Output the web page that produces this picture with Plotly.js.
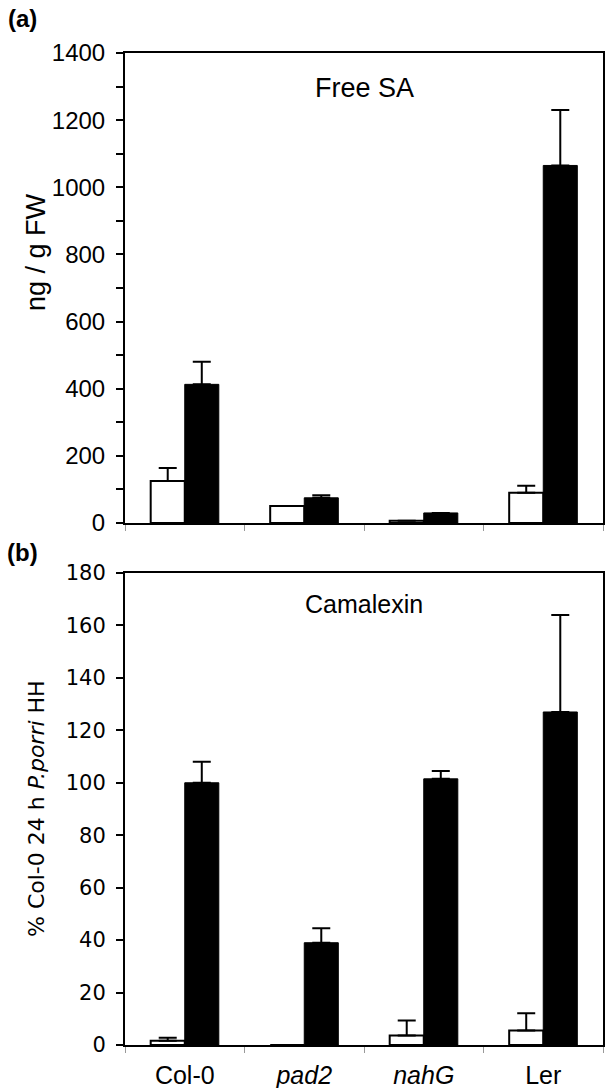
<!DOCTYPE html>
<html>
<head>
<meta charset="utf-8">
<script src="https://cdn.plot.ly/plotly-3.0.1.min.js"></script>
<style>
html,body{margin:0;padding:0;background:#fff;}
#chart{width:605px;height:1088px;}
</style>
</head>
<body>
<div id="chart"></div>
<script>
// Data
const categories = ['Col-0', '<i>pad2</i>', '<i>nahG</i>', 'Ler'];

// (a) Free SA, ng / g FW
const saMock = [125, 51, 7, 90];
const saMockErr = [39, 0, 0, 21];
const saInf = [413, 75, 30, 1065];
const saInfErr = [67, 8, 0, 165];

// (b) Camalexin, % Col-0 24 h P.porri HH
const camMock = [1.6, 0, 3.6, 5.5];
const camMockErr = [1.2, 0, 5.7, 6.6];
const camInf = [100, 39, 101.5, 127];
const camInfErr = [8, 5.5, 3, 37];

const zeros = categories.map(() => 0);

function errUp(arr) {
  return {type: 'data', symmetric: false, array: arr, arrayminus: zeros,
          color: '#000', thickness: 2, width: 9, visible: true};
}
const whiteMarker = {color: '#ffffff', line: {color: '#000', width: 2}};
const blackMarker = {color: '#000000', line: {color: '#000', width: 1}};

const traces = [
  {type: 'bar', x: categories, y: saMock, error_y: errUp(saMockErr), marker: whiteMarker, xaxis: 'x', yaxis: 'y', showlegend: false, hoverinfo: 'none'},
  {type: 'bar', x: categories, y: saInf, error_y: errUp(saInfErr), marker: blackMarker, xaxis: 'x', yaxis: 'y', showlegend: false, hoverinfo: 'none'},
  {type: 'bar', x: categories, y: camMock, error_y: errUp(camMockErr), marker: whiteMarker, xaxis: 'x2', yaxis: 'y2', showlegend: false, hoverinfo: 'none'},
  {type: 'bar', x: categories, y: camInf, error_y: errUp(camInfErr), marker: blackMarker, xaxis: 'x2', yaxis: 'y2', showlegend: false, hoverinfo: 'none'}
];

const W = 605, H = 1088;
const px = v => v / W;
const py = v => 1 - v / H;
const SANS = 'Liberation Sans, Arial, sans-serif';
const VERD = 'DejaVu Sans, Verdana, sans-serif';

const xCommon = {
  type: 'category', showline: true, linecolor: '#000', linewidth: 2, mirror: true,
  ticks: 'outside', tickson: 'boundaries', ticklen: 6, tickwidth: 1, tickcolor: '#999',
  showgrid: false, zeroline: false, fixedrange: true, automargin: false,
  domain: [px(125), px(603)]
};

const layout = {
  width: W, height: H,
  margin: {l: 0, r: 0, t: 0, b: 0},
  paper_bgcolor: '#fff', plot_bgcolor: '#fff',
  barmode: 'group', bargap: 0.43, bargroupgap: 0,
  font: {family: SANS, color: '#000', size: 20},
  xaxis: Object.assign({}, xCommon, {anchor: 'y', showticklabels: false}),
  xaxis2: Object.assign({}, xCommon, {anchor: 'y2', showticklabels: true,
    ticklabelstandoff: 7,
    tickfont: {family: SANS, size: 25, color: '#000'}}),
  yaxis: {
    domain: [py(523), py(53)], range: [0, 1400], anchor: 'x',
    tickmode: 'linear', tick0: 0, dtick: 200,
    ticks: 'outside', ticklen: 7, tickwidth: 2, tickcolor: '#000',
    minor: {dtick: 100, tick0: 0, ticks: 'outside', ticklen: 7, tickwidth: 2, tickcolor: '#000', showgrid: false},
    showline: true, linecolor: '#000', linewidth: 2, mirror: true,
    showgrid: false, zeroline: false, fixedrange: true, automargin: false,
    ticklabelstandoff: 6,
    tickfont: {family: SANS, size: 24, color: '#000'}
  },
  yaxis2: {
    domain: [py(1045), py(573)], range: [0, 180], anchor: 'x2',
    tickmode: 'linear', tick0: 0, dtick: 20,
    ticks: 'outside', ticklen: 7, tickwidth: 2, tickcolor: '#000',
    showline: true, linecolor: '#000', linewidth: 2, mirror: true,
    showgrid: false, zeroline: false, fixedrange: true, automargin: false,
    ticklabelstandoff: 6,
    tickfont: {family: VERD, size: 21, color: '#000'}
  },
  annotations: [
    {text: '<b>(a)</b>', xref: 'paper', yref: 'paper', x: px(23), y: py(18), showarrow: false,
     xanchor: 'center', yanchor: 'middle', font: {family: SANS, size: 24}},
    {text: '<b>(b)</b>', xref: 'paper', yref: 'paper', x: px(23), y: py(552), showarrow: false,
     xanchor: 'center', yanchor: 'middle', font: {family: SANS, size: 24}},
    {text: 'Free SA', xref: 'paper', yref: 'y', x: px(364), y: 1295, showarrow: false,
     xanchor: 'center', yanchor: 'middle', font: {family: SANS, size: 27}},
    {text: 'Camalexin', xref: 'paper', yref: 'y2', x: px(364), y: 168, showarrow: false,
     xanchor: 'center', yanchor: 'middle', font: {family: SANS, size: 25}},
    {text: 'ng / g FW', xref: 'paper', yref: 'paper', x: px(36), y: py(252), showarrow: false, textangle: -90,
     xanchor: 'center', yanchor: 'middle', font: {family: SANS, size: 27}},
    {text: '% Col-0 24 h <i>P.porri</i> HH', xref: 'paper', yref: 'paper', x: px(36), y: py(809), showarrow: false, textangle: -90,
     xanchor: 'center', yanchor: 'middle', font: {family: VERD, size: 22}}
  ]
};

Plotly.newPlot('chart', traces, layout, {staticPlot: true, displayModeBar: false});
</script>
</body>
</html>
